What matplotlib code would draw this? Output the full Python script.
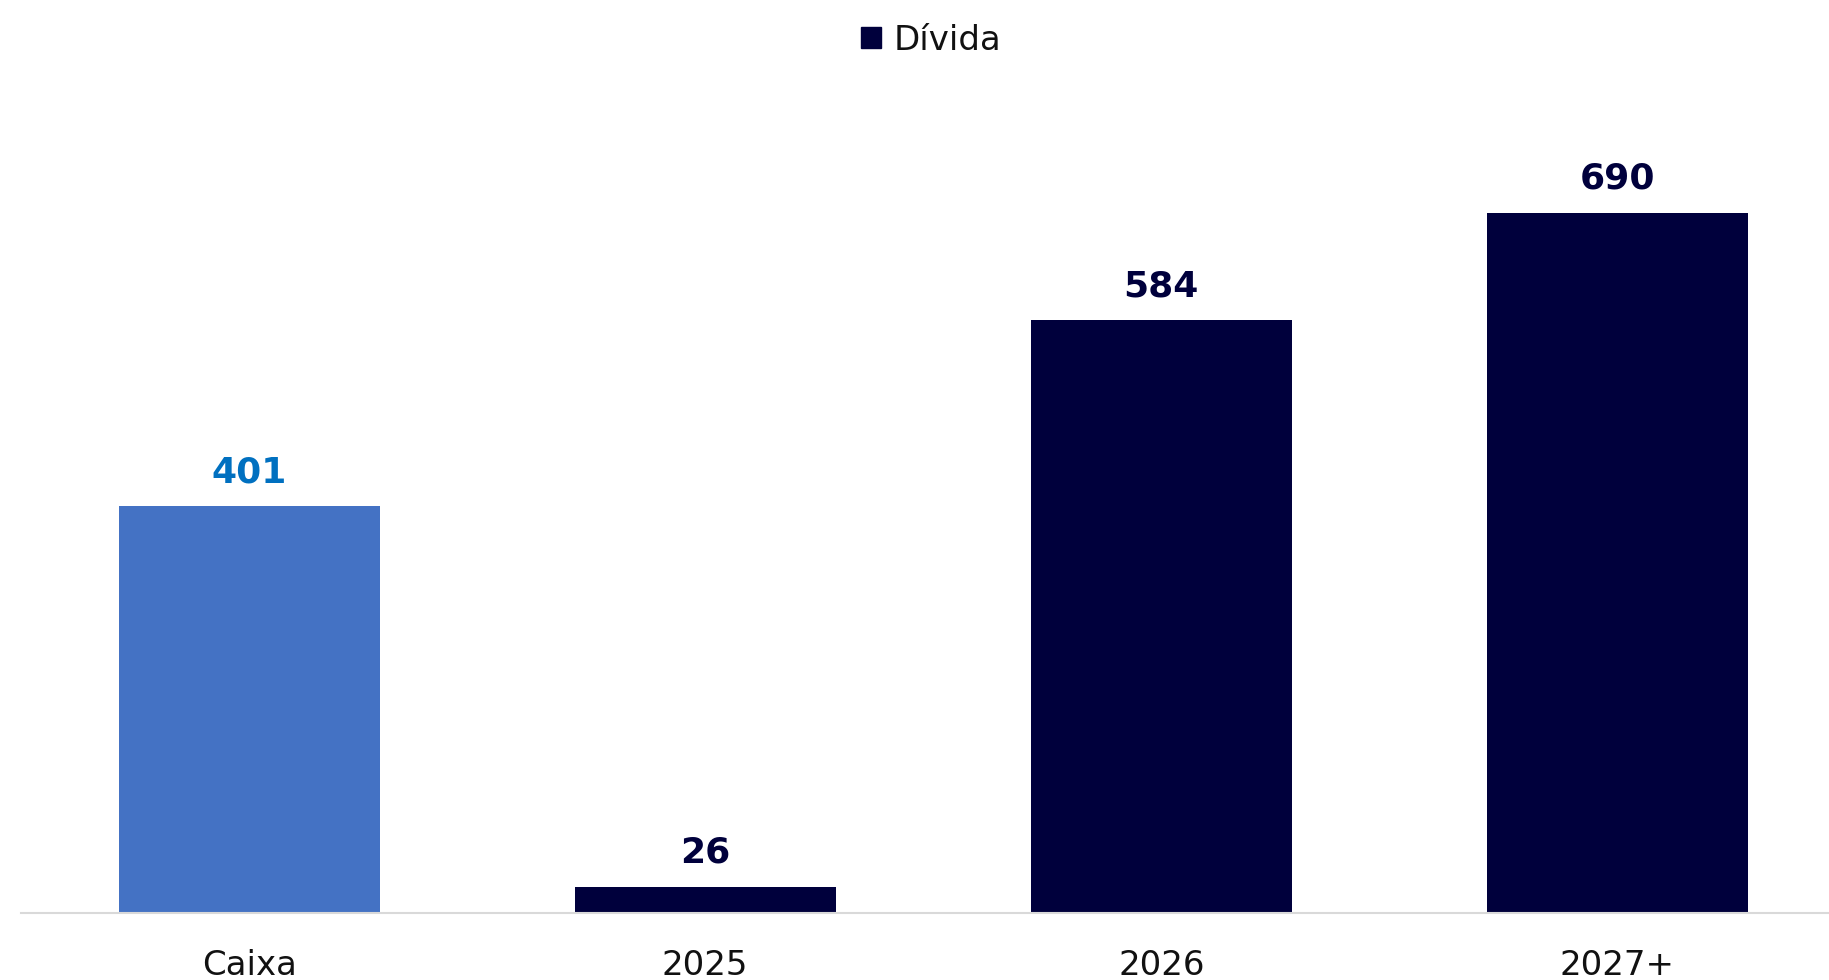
import matplotlib.pyplot as plt
from matplotlib.patches import Patch

# cash position vs. debt maturity schedule
categories = ['Caixa', '2025', '2026', '2027+']
caixa = [401]
divida = [26, 584, 690]

CAIXA_COLOR = '#4472C4'
CAIXA_LABEL = '#0070C0'
DEBT_COLOR = '#00003C'

plt.rcParams['font.family'] = ['DejaVu Sans']

fig = plt.figure(figsize=(18.29, 9.8), dpi=100)
ax = fig.add_axes([0.0115, 0.0684, 0.9885, 0.8286])

x = list(range(len(categories)))
w = 0.572
b1 = ax.bar(x[:1], caixa, width=w, color=CAIXA_COLOR)
b2 = ax.bar(x[1:], divida, width=w, color=DEBT_COLOR, label='Dívida')

ax.bar_label(b1, padding=12, fontsize=26, fontweight='bold', color=CAIXA_LABEL)
ax.bar_label(b2, padding=12, fontsize=26, fontweight='bold', color=DEBT_COLOR)

ax.set_xlim(-0.5, 3.464)
ax.set_ylim(0, 800)
ax.set_xticks(x)
ax.set_xticklabels(categories, fontsize=24.5, color='#111111')
ax.tick_params(axis='x', length=0, pad=26)
ax.set_yticks([])
for s in ['top', 'right', 'left']:
    ax.spines[s].set_visible(False)
ax.spines['bottom'].set_color('#D9D9D9')
ax.spines['bottom'].set_linewidth(1.5)

fig.legend(handles=[Patch(color=DEBT_COLOR)], labels=['Dívida'],
           loc='center', bbox_to_anchor=(0.509, 0.959), frameon=False,
           fontsize=24.5, handlelength=0.6, handleheight=0.6,
           handletextpad=0.35, labelcolor='#111111')

fig.savefig('out.png', dpi=100, facecolor='white')
